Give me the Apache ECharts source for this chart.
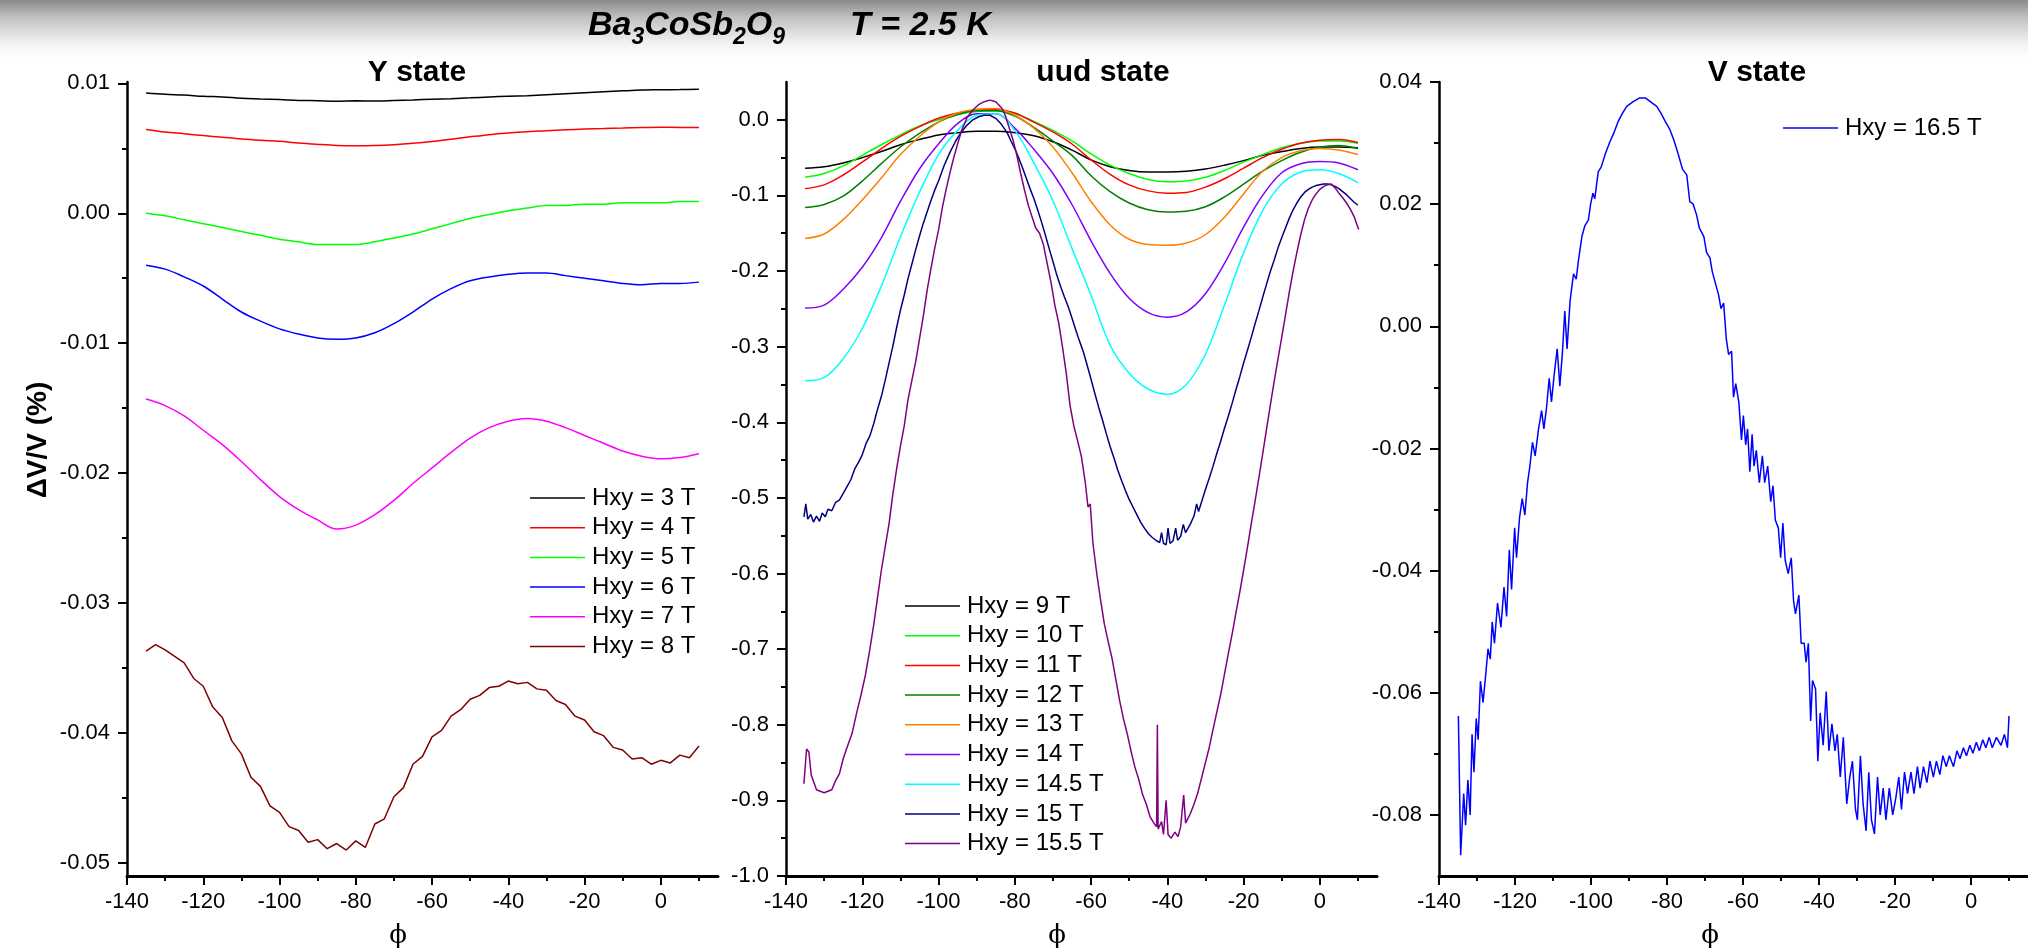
<!DOCTYPE html>
<html><head><meta charset="utf-8">
<script src="https://cdn.jsdelivr.net/npm/echarts@6/dist/echarts.min.js"></script>
<style>
html,body{margin:0;padding:0;width:2028px;height:950px;overflow:hidden;background:#fff;}
#bg{position:absolute;left:0;top:0;width:2028px;height:60px;background:linear-gradient(to bottom,#8a8a8a 0px,#c2c2c2 18px,#f0f0f0 42px,#ffffff 58px);}
#chart{position:absolute;left:0;top:0;width:2028px;height:950px;}
</style></head><body><div id="bg"></div><div id="chart"></div>
<script>
// ---------- tick labels ----------
const xMajorTicks = [-140,-120,-100,-80,-60,-40,-20,0];
const xMinorTicks = [-130,-110,-90,-70,-50,-30,-10,10];
const yState_major = [-0.05,-0.04,-0.03,-0.02,-0.01,0,0.01];
const yState_minor = [-0.045,-0.035,-0.025,-0.015,-0.005,0.005];
const uud_major = [-1.0,-0.9,-0.8,-0.7,-0.6,-0.5,-0.4,-0.3,-0.2,-0.1,0];
const uud_minor = [-0.95,-0.85,-0.75,-0.65,-0.55,-0.45,-0.35,-0.25,-0.15,-0.05];
const v_major = [-0.08,-0.06,-0.04,-0.02,0,0.02,0.04];
const v_minor = [-0.07,-0.05,-0.03,-0.01,0.01,0.03];

// ---------- categories ----------
const yStateNames = ['Hxy = 3 T','Hxy = 4 T','Hxy = 5 T','Hxy = 6 T','Hxy = 7 T','Hxy = 8 T'];
const uudNames = ['Hxy = 9 T','Hxy = 10 T','Hxy = 11 T','Hxy = 12 T','Hxy = 13 T','Hxy = 14 T','Hxy = 14.5 T','Hxy = 15 T','Hxy = 15.5 T'];
const vNames = ['Hxy = 16.5 T'];

// ---------- data: angle grids ----------
const phi5 = [-135,-130,-125,-120,-115,-110,-105,-100,-95,-90,-85,-80,-75,-70,-65,-60,-55,-50,-45,-40,-35,-30,-25,-20,-15,-10,-5,0,5,10];
const phi25 = [-135,-132.5,-130,-127.5,-125,-122.5,-120,-117.5,-115,-112.5,-110,-107.5,-105,-102.5,-100,-97.5,-95,-92.5,-90,-87.5,-85,-82.5,-80,-77.5,-75,-72.5,-70,-67.5,-65,-62.5,-60,-57.5,-55,-52.5,-50,-47.5,-45,-42.5,-40,-37.5,-35,-32.5,-30,-27.5,-25,-22.5,-20,-17.5,-15,-12.5,-10,-7.5,-5,-2.5,0,2.5,5,7.5,10];

// ---------- Y state ----------
const y3T = [0.00925,0.00915,0.00910,0.00900,0.00895,0.00885,0.00880,0.00875,0.00868,0.00866,0.00862,0.00865,0.00864,0.00868,0.00872,0.00878,0.00882,0.00888,0.00895,0.00900,0.00905,0.00912,0.00920,0.00928,0.00935,0.00942,0.00948,0.00950,0.00952,0.00955];
const y4T = [0.00645,0.00625,0.00612,0.00598,0.00585,0.00572,0.00562,0.00554,0.00540,0.00530,0.00522,0.00520,0.00522,0.00528,0.00538,0.00552,0.00570,0.00588,0.00605,0.00618,0.00628,0.00635,0.00642,0.00648,0.00652,0.00656,0.00660,0.00662,0.00660,0.00660];
const y5T = [0.0000,-0.0002,-0.0005,-0.0008,-0.0011,-0.0014,-0.0017,-0.0020,-0.0022,-0.0024,-0.0024,-0.0024,-0.0022,-0.0019,-0.0016,-0.0012,-0.0008,-0.0004,-0.0001,0.0002,0.0004,0.0006,0.0006,0.0007,0.0007,0.0008,0.0008,0.0008,0.0009,0.0009];
const y6T = [-0.0040,-0.0043,-0.0049,-0.0056,-0.0066,-0.0076,-0.0083,-0.0089,-0.0093,-0.0096,-0.0097,-0.0096,-0.0092,-0.0085,-0.0076,-0.0066,-0.0058,-0.0052,-0.0049,-0.0047,-0.0046,-0.0046,-0.0048,-0.0050,-0.0052,-0.0054,-0.0055,-0.0054,-0.0054,-0.0053];
const y7T = [-0.0143,-0.0148,-0.0156,-0.0167,-0.0178,-0.0191,-0.0205,-0.0218,-0.0228,-0.0236,-0.0243,-0.0240,-0.0232,-0.0221,-0.0208,-0.0196,-0.0184,-0.0173,-0.0165,-0.0160,-0.0158,-0.0160,-0.0165,-0.0171,-0.0177,-0.0183,-0.0187,-0.0189,-0.0188,-0.0185];
const y8T = [-0.0337,-0.0332,-0.0336,-0.0341,-0.0346,-0.0358,-0.0364,-0.0380,-0.0388,-0.0406,-0.0416,-0.0434,-0.0441,-0.0456,-0.0461,-0.0472,-0.0475,-0.0484,-0.0482,-0.0489,-0.0485,-0.0490,-0.0483,-0.0488,-0.0470,-0.0466,-0.0449,-0.0442,-0.0424,-0.0418,-0.0403,-0.0398,-0.0387,-0.0382,-0.0374,-0.0371,-0.0365,-0.0364,-0.0360,-0.0362,-0.0361,-0.0366,-0.0367,-0.0375,-0.0378,-0.0387,-0.0390,-0.0399,-0.0402,-0.0411,-0.0413,-0.0420,-0.0419,-0.0424,-0.0421,-0.0423,-0.0417,-0.0419,-0.0410];

// ---------- uud state ----------
const u9 = [-0.064,-0.062,-0.057,-0.050,-0.042,-0.033,-0.026,-0.020,-0.017,-0.015,-0.015,-0.017,-0.021,-0.029,-0.040,-0.053,-0.062,-0.067,-0.069,-0.069,-0.068,-0.065,-0.060,-0.054,-0.047,-0.042,-0.038,-0.036,-0.036,-0.037];
const u10 = [-0.076,-0.071,-0.061,-0.047,-0.033,-0.020,-0.008,0.000,0.007,0.011,0.012,0.008,-0.002,-0.014,-0.028,-0.045,-0.060,-0.071,-0.079,-0.082,-0.081,-0.076,-0.067,-0.056,-0.046,-0.037,-0.031,-0.028,-0.028,-0.031];
const u11 = [-0.091,-0.086,-0.073,-0.056,-0.038,-0.022,-0.009,0.002,0.009,0.013,0.014,0.009,-0.003,-0.016,-0.032,-0.053,-0.072,-0.086,-0.094,-0.097,-0.096,-0.089,-0.078,-0.064,-0.050,-0.039,-0.031,-0.027,-0.026,-0.030];
const u12 = [-0.116,-0.112,-0.101,-0.081,-0.058,-0.036,-0.018,-0.003,0.007,0.012,0.012,0.005,-0.010,-0.028,-0.047,-0.074,-0.095,-0.110,-0.119,-0.122,-0.121,-0.115,-0.102,-0.085,-0.068,-0.054,-0.043,-0.036,-0.034,-0.038];
const u13 = [-0.157,-0.151,-0.132,-0.106,-0.077,-0.046,-0.022,-0.003,0.009,0.014,0.015,0.006,-0.011,-0.036,-0.070,-0.108,-0.139,-0.158,-0.165,-0.166,-0.163,-0.152,-0.129,-0.098,-0.068,-0.050,-0.041,-0.038,-0.040,-0.046];
const u14 = [-0.249,-0.245,-0.224,-0.195,-0.156,-0.108,-0.065,-0.032,-0.005,0.008,0.008,-0.011,-0.039,-0.071,-0.112,-0.160,-0.203,-0.236,-0.255,-0.261,-0.254,-0.230,-0.190,-0.142,-0.100,-0.070,-0.058,-0.055,-0.057,-0.066];
const u14_5 = [-0.345,-0.341,-0.316,-0.276,-0.220,-0.155,-0.096,-0.046,-0.014,0.006,0.008,-0.014,-0.057,-0.107,-0.170,-0.232,-0.298,-0.335,-0.356,-0.363,-0.350,-0.310,-0.245,-0.176,-0.120,-0.085,-0.069,-0.066,-0.071,-0.083];
const u15 = [[-135.3,-0.525],[-134.8,-0.508],[-134.3,-0.528],[-133.5,-0.522],[-132.8,-0.532],[-132.0,-0.524],[-131.2,-0.531],[-130.5,-0.520],[-129.7,-0.525],[-129.0,-0.515],[-128.0,-0.517],[-127.0,-0.506],[-126.0,-0.503],[-125.0,-0.494],[-124.0,-0.485],[-123.0,-0.476],[-122.0,-0.462],[-121.0,-0.453],[-120.0,-0.443],[-119.0,-0.428],[-118.0,-0.418],[-117.0,-0.402],[-116.0,-0.383],[-115.0,-0.366],[-114.0,-0.345],[-113.0,-0.322],[-112.0,-0.300],[-111.0,-0.275],[-110.0,-0.252],[-109.0,-0.232],[-108.0,-0.210],[-107.0,-0.191],[-106.0,-0.172],[-105.0,-0.154],[-104.0,-0.137],[-103.0,-0.122],[-102.0,-0.107],[-101.0,-0.093],[-100.0,-0.081],[-98.5,-0.060],[-97.0,-0.043],[-95.5,-0.028],[-94.0,-0.016],[-92.5,-0.007],[-91.0,0.000],[-89.5,0.004],[-88.0,0.006],[-86.5,0.006],[-85.0,0.002],[-83.5,-0.006],[-82.0,-0.017],[-81.0,-0.028],[-80.0,-0.038],[-79.0,-0.050],[-78.0,-0.063],[-77.0,-0.077],[-76.0,-0.091],[-75.0,-0.104],[-74.0,-0.119],[-73.0,-0.135],[-72.0,-0.152],[-71.0,-0.170],[-70.0,-0.187],[-69.0,-0.205],[-68.0,-0.220],[-67.0,-0.234],[-66.0,-0.247],[-65.0,-0.262],[-64.0,-0.278],[-63.0,-0.293],[-62.0,-0.307],[-61.0,-0.325],[-60.0,-0.343],[-59.0,-0.362],[-58.0,-0.380],[-57.0,-0.397],[-56.0,-0.415],[-55.0,-0.432],[-54.0,-0.447],[-53.0,-0.463],[-52.0,-0.477],[-51.0,-0.490],[-50.0,-0.502],[-49.0,-0.512],[-48.0,-0.522],[-47.0,-0.532],[-46.0,-0.540],[-45.0,-0.547],[-44.0,-0.552],[-43.0,-0.556],[-42.0,-0.559],[-41.5,-0.546],[-41.0,-0.560],[-40.3,-0.562],[-39.8,-0.540],[-39.3,-0.560],[-38.5,-0.557],[-37.8,-0.540],[-37.3,-0.556],[-36.5,-0.551],[-35.8,-0.535],[-35.2,-0.546],[-34.0,-0.535],[-33.0,-0.524],[-32.3,-0.508],[-31.8,-0.518],[-31.0,-0.505],[-30.0,-0.489],[-29.0,-0.474],[-28.0,-0.458],[-27.0,-0.441],[-26.0,-0.425],[-25.0,-0.408],[-24.0,-0.392],[-23.0,-0.375],[-22.0,-0.357],[-21.0,-0.340],[-20.0,-0.322],[-19.0,-0.305],[-18.0,-0.288],[-17.0,-0.270],[-16.0,-0.253],[-15.0,-0.235],[-14.0,-0.218],[-13.0,-0.201],[-12.0,-0.186],[-11.0,-0.170],[-10.0,-0.156],[-9.0,-0.143],[-8.0,-0.130],[-7.0,-0.119],[-6.0,-0.110],[-5.0,-0.102],[-4.0,-0.096],[-3.0,-0.092],[-2.0,-0.089],[-1.0,-0.087],[0.0,-0.086],[1.0,-0.085],[2.0,-0.085],[3.0,-0.086],[4.0,-0.088],[5.0,-0.091],[6.0,-0.095],[7.0,-0.099],[8.0,-0.104],[9.0,-0.109],[10.0,-0.113]];
const u15_5 = [[-135.3,-0.878],[-134.6,-0.832],[-134.0,-0.836],[-133.4,-0.866],[-132.0,-0.886],[-130.0,-0.890],[-128.0,-0.886],[-127.0,-0.874],[-126.0,-0.865],[-125.0,-0.845],[-124.0,-0.830],[-122.7,-0.812],[-121.5,-0.785],[-120.3,-0.760],[-119.2,-0.735],[-118.0,-0.700],[-117.0,-0.668],[-116.0,-0.632],[-115.0,-0.596],[-114.0,-0.565],[-113.0,-0.535],[-112.0,-0.496],[-111.0,-0.462],[-110.0,-0.432],[-109.0,-0.405],[-108.0,-0.370],[-107.0,-0.345],[-106.0,-0.320],[-105.0,-0.290],[-104.0,-0.260],[-103.0,-0.226],[-102.0,-0.197],[-101.0,-0.170],[-100.0,-0.146],[-99.0,-0.116],[-98.0,-0.092],[-97.0,-0.070],[-96.0,-0.050],[-95.0,-0.032],[-94.0,-0.015],[-92.5,0.003],[-91.0,0.013],[-89.5,0.020],[-88.0,0.024],[-86.5,0.026],[-85.0,0.024],[-83.5,0.016],[-82.5,0.006],[-81.5,-0.010],[-80.5,-0.026],[-79.5,-0.046],[-78.5,-0.070],[-77.5,-0.092],[-76.5,-0.112],[-75.5,-0.128],[-74.5,-0.143],[-73.5,-0.150],[-72.5,-0.165],[-71.5,-0.190],[-70.5,-0.215],[-69.5,-0.245],[-68.5,-0.268],[-67.5,-0.300],[-66.5,-0.335],[-65.5,-0.378],[-64.5,-0.405],[-63.5,-0.425],[-62.5,-0.446],[-61.5,-0.480],[-60.8,-0.512],[-60.2,-0.508],[-59.5,-0.560],[-58.5,-0.600],[-57.5,-0.635],[-56.5,-0.667],[-55.5,-0.690],[-54.5,-0.712],[-53.5,-0.740],[-52.5,-0.768],[-51.5,-0.792],[-50.5,-0.812],[-49.5,-0.835],[-48.5,-0.856],[-47.5,-0.872],[-46.5,-0.892],[-45.5,-0.905],[-44.5,-0.922],[-43.5,-0.930],[-42.8,-0.935],[-42.6,-0.800],[-42.4,-0.938],[-41.5,-0.928],[-41.0,-0.945],[-40.3,-0.900],[-39.8,-0.945],[-39.0,-0.950],[-38.0,-0.942],[-37.2,-0.948],[-36.5,-0.935],[-35.7,-0.893],[-35.2,-0.930],[-34.0,-0.918],[-33.0,-0.905],[-32.0,-0.890],[-31.0,-0.870],[-30.0,-0.850],[-29.0,-0.830],[-28.0,-0.806],[-27.0,-0.783],[-26.0,-0.760],[-25.0,-0.733],[-24.0,-0.706],[-23.0,-0.680],[-22.0,-0.652],[-21.0,-0.625],[-20.0,-0.596],[-19.0,-0.566],[-18.0,-0.535],[-17.0,-0.505],[-16.0,-0.474],[-15.0,-0.442],[-14.0,-0.410],[-13.0,-0.378],[-12.0,-0.347],[-11.0,-0.317],[-10.0,-0.288],[-9.0,-0.258],[-8.0,-0.228],[-7.0,-0.200],[-6.0,-0.175],[-5.0,-0.152],[-4.0,-0.132],[-3.0,-0.117],[-2.0,-0.106],[-1.0,-0.098],[0.0,-0.092],[1.0,-0.088],[2.0,-0.086],[3.0,-0.085],[4.0,-0.090],[5.0,-0.097],[6.0,-0.103],[7.0,-0.110],[8.0,-0.118],[9.0,-0.128],[9.7,-0.138],[10.2,-0.145]];

// ---------- V state ----------
const vPhi = [-134.9,-134.3,-133.5,-133,-132.4,-131.8,-131.3,-130.8,-130.2,-129.7,-129.1,-128.4,-127.6,-127.1,-126.5,-126,-125.4,-124.6,-123.7,-122.9,-122.2,-121.5,-120.9,-120.1,-119.6,-118.8,-118.1,-117.4,-116.7,-116.1,-115.4,-114.7,-113.8,-113,-112.4,-111.7,-111,-110.4,-109.7,-108.9,-108.2,-107.5,-106.9,-106.3,-105.5,-104.6,-103.9,-103.3,-102.4,-101.6,-100.7,-100.1,-99.5,-99,-98.1,-97.3,-96.2,-95.1,-93.9,-92.8,-91.7,-90.6,-88.9,-87.2,-85.7,-84.4,-82.7,-81.6,-80.5,-79.3,-78.2,-77.1,-75.9,-74.8,-74,-73.1,-72.2,-71.5,-70.3,-69.6,-68.7,-68.1,-67.2,-66.4,-65.8,-65.1,-64.4,-63.8,-63,-62.5,-61.9,-61.1,-60.4,-59.9,-59.3,-58.8,-58.2,-57.6,-57.1,-56.5,-55.7,-54.9,-54.3,-53.5,-52.7,-52.1,-51.5,-50.7,-50.1,-49.5,-48.9,-48.1,-47.3,-46.7,-46.2,-45.3,-44.7,-43.9,-43.4,-42.8,-42.2,-41.7,-40.9,-40.3,-39.7,-38.9,-38.1,-37.4,-36.6,-35.8,-35.2,-34.4,-33.6,-32.7,-31.9,-31.2,-30.4,-29.9,-29.1,-28.4,-27.6,-26.9,-26.2,-25.4,-24.6,-23.9,-23.1,-22.4,-21.5,-20.6,-19.8,-19,-18.3,-17.5,-16.7,-15.8,-15,-14.1,-13.4,-12.5,-11.6,-10.8,-9.9,-9.1,-8.2,-7.4,-6.5,-5.7,-4.6,-3.7,-2.9,-2,-1.2,-0.3,0.5,1.4,2.2,3.1,3.9,4.8,5.6,6.7,7.9,8.8,9.6,10];
const v16_5 = [-0.0638,-0.0866,-0.0765,-0.0817,-0.0743,-0.0800,-0.0668,-0.0730,-0.0642,-0.0677,-0.0581,-0.0616,-0.0563,-0.0528,-0.0545,-0.0484,-0.0519,-0.0453,-0.0493,-0.0427,-0.0475,-0.0366,-0.0431,-0.0330,-0.0379,-0.0313,-0.0282,-0.0309,-0.0256,-0.0230,-0.0190,-0.0212,-0.0168,-0.0138,-0.0168,-0.0133,-0.0085,-0.0124,-0.0080,-0.0037,-0.0098,-0.0041,0.0025,-0.0037,0.0042,0.0086,0.0077,0.0108,0.0147,0.0165,0.0174,0.0200,0.0218,0.0209,0.0253,0.0261,0.0283,0.0301,0.0318,0.0336,0.0349,0.0360,0.0368,0.0374,0.0374,0.0368,0.0360,0.0349,0.0336,0.0323,0.0305,0.0283,0.0257,0.0248,0.0204,0.0200,0.0182,0.0161,0.0147,0.0121,0.0112,0.0090,0.0069,0.0051,0.0029,0.0038,-0.0020,-0.0046,-0.0041,-0.0116,-0.0094,-0.0124,-0.0186,-0.0146,-0.0194,-0.0168,-0.0238,-0.0177,-0.0229,-0.0203,-0.0256,-0.0212,-0.0256,-0.0229,-0.0287,-0.0261,-0.0317,-0.0330,-0.0379,-0.0322,-0.0383,-0.0405,-0.0379,-0.0449,-0.0471,-0.0440,-0.0519,-0.0519,-0.0550,-0.0519,-0.0646,-0.0580,-0.0594,-0.0712,-0.0633,-0.0686,-0.0598,-0.0695,-0.0651,-0.0695,-0.0668,-0.0738,-0.0673,-0.0782,-0.0738,-0.0712,-0.0791,-0.0808,-0.0703,-0.0782,-0.0826,-0.0730,-0.0808,-0.0831,-0.0738,-0.0800,-0.0756,-0.0808,-0.0756,-0.0800,-0.0773,-0.0738,-0.0791,-0.0730,-0.0765,-0.0730,-0.0765,-0.0721,-0.0756,-0.0721,-0.0747,-0.0712,-0.0738,-0.0712,-0.0734,-0.0703,-0.0721,-0.0703,-0.0721,-0.0695,-0.0708,-0.0690,-0.0703,-0.0686,-0.0699,-0.0681,-0.0695,-0.0677,-0.0690,-0.0673,-0.0690,-0.0673,-0.0686,-0.0668,-0.0690,-0.0638];

// ---------- build chart ----------
const FONT = '"Liberation Sans", Arial, Helvetica, sans-serif';
const GL = [127, 786, 1439];
const GTOP = 82, GH = 794, GW = 591;
const yRanges = [[-0.051, 0.0101], [-1.0, 0.05], [-0.09, 0.04]];
const yMaj = [yState_major, uud_major, v_major];
const yMin = [yState_minor, uud_minor, v_minor];
const yDec = [2, 1, 2];

const grid = GL.map(l => ({left: l, top: GTOP, width: GW, height: GH, containLabel: false}));
const xAxis = [], yAxis = [];
for (let i = 0; i < 3; i++) {
  xAxis.push({type: 'value', gridIndex: i, min: -140, max: 15, position: 'bottom',
    axisLine: {onZero: false, lineStyle: {color: '#000', width: 3}},
    axisTick: {show: true, customValues: xMajorTicks, length: 9, lineStyle: {color: '#000', width: 2}},
    axisLabel: {customValues: xMajorTicks, margin: 15, fontSize: 22, color: '#000', fontFamily: FONT,
      formatter: v => String(Math.round(v))},
    splitLine: {show: false}});
  xAxis.push({type: 'value', gridIndex: i, min: -140, max: 15, position: 'bottom',
    axisLine: {show: false, onZero: false},
    axisTick: {show: true, customValues: xMinorTicks, length: 5, lineStyle: {color: '#000', width: 2}},
    axisLabel: {show: false, customValues: xMinorTicks},
    splitLine: {show: false}});
  const d = yDec[i];
  yAxis.push({type: 'value', gridIndex: i, min: yRanges[i][0], max: yRanges[i][1], position: 'left',
    axisLine: {show: true, onZero: false, lineStyle: {color: '#000', width: 2.5}},
    axisTick: {show: true, customValues: yMaj[i], length: 9, lineStyle: {color: '#000', width: 2}},
    axisLabel: {customValues: yMaj[i], margin: 17, fontSize: 22, color: '#000', fontFamily: FONT,
      formatter: v => (Math.abs(v) < 1e-9 ? 0 : v).toFixed(d)},
    splitLine: {show: false}});
  yAxis.push({type: 'value', gridIndex: i, min: yRanges[i][0], max: yRanges[i][1], position: 'left',
    axisLine: {show: false, onZero: false},
    axisTick: {show: true, customValues: yMin[i], length: 5, lineStyle: {color: '#000', width: 2}},
    axisLabel: {show: false, customValues: yMin[i]},
    splitLine: {show: false}});
}

function mk(name, pts, color, panel, smooth) {
  return {type: 'line', name, xAxisIndex: panel * 2, yAxisIndex: panel * 2, data: pts,
    symbol: 'none', showSymbol: false, smooth: smooth ? 0.35 : false,
    lineStyle: {color, width: 1.5}, itemStyle: {color}, silent: true, animation: false, clip: true};
}
const zip = (xs, ys) => xs.map((x, k) => [x, ys[k]]);

const series = [
  mk(yStateNames[0], zip(phi5, y3T), '#000000', 0, true),
  mk(yStateNames[1], zip(phi5, y4T), '#ff0000', 0, true),
  mk(yStateNames[2], zip(phi5, y5T), '#00ff00', 0, true),
  mk(yStateNames[3], zip(phi5, y6T), '#0000ff', 0, true),
  mk(yStateNames[4], zip(phi5, y7T), '#ff00ff', 0, true),
  mk(yStateNames[5], zip(phi25, y8T), '#800000', 0, false),
  mk(uudNames[0], zip(phi5, u9), '#000000', 1, true),
  mk(uudNames[1], zip(phi5, u10), '#00ff00', 1, true),
  mk(uudNames[2], zip(phi5, u11), '#ff0000', 1, true),
  mk(uudNames[3], zip(phi5, u12), '#008000', 1, true),
  mk(uudNames[4], zip(phi5, u13), '#ff8000', 1, true),
  mk(uudNames[5], zip(phi5, u14), '#8000ff', 1, true),
  mk(uudNames[6], zip(phi5, u14_5), '#00ffff', 1, true),
  mk(uudNames[7], u15, '#000080', 1, false),
  mk(uudNames[8], u15_5, '#800080', 1, false),
  mk(vNames[0], zip(vPhi, v16_5), '#0000ff', 2, false)
];

function legend(names, left, top) {
  return {data: names, left, top, orient: 'vertical', icon: 'rect', itemWidth: 55, itemHeight: 1.5,
    itemGap: 5.7, padding: 0, selectedMode: false,
    textStyle: {fontSize: 24, fontFamily: FONT, color: '#000', lineHeight: 24, padding: [0, 0, 0, 2]}};
}

const richB = {fontSize: 34, fontWeight: 'bold', fontStyle: 'italic', fontFamily: FONT, color: '#000', lineHeight: 34, verticalAlign: 'top'};
const richS = {fontSize: 23, fontWeight: 'bold', fontStyle: 'italic', fontFamily: FONT, color: '#000', lineHeight: 23, verticalAlign: 'top', padding: [17, 0, 0, 0]};
const titleFont = 'bold 30px ' + FONT;
const txt = (t, x, y, font, extra) => Object.assign({type: 'text', x, y, silent: true,
  style: {text: t, font, fill: '#000', align: 'center', verticalAlign: 'middle', textAlign: 'center', textVerticalAlign: 'middle'}}, extra || {});

const option = {
  backgroundColor: 'transparent',
  animation: false,
  title: [
    {text: '{b|Ba}{s|3}{b|CoSb}{s|2}{b|O}{s|9}', left: 588, top: 9, padding: 0,
      textStyle: {rich: {b: richB, s: richS}}},
    {text: '{b|T = 2.5 K}', left: 850, top: 9, padding: 0, textStyle: {rich: {b: richB}}}
  ],
  grid, xAxis, yAxis, series,
  legend: [legend(yStateNames, 530, 486), legend(uudNames, 905, 594), legend(vNames, 1783, 116)],
  graphic: [
    txt('Y state', 417, 73, titleFont),
    txt('uud state', 1103, 73, titleFont),
    txt('V state', 1757, 73, titleFont),
    txt('ΔV/V (%)', 38, 440, 'bold 28px ' + FONT, {rotation: Math.PI / 2}),
    txt('ϕ', 398, 936, '26px "DejaVu Serif", serif'),
    txt('ϕ', 1057, 936, '26px "DejaVu Serif", serif'),
    txt('ϕ', 1710, 936, '26px "DejaVu Serif", serif')
  ]
};

const chart = echarts.init(document.getElementById('chart'), null, {renderer: 'canvas', width: 2028, height: 950});
chart.setOption(option);
</script></body></html>
